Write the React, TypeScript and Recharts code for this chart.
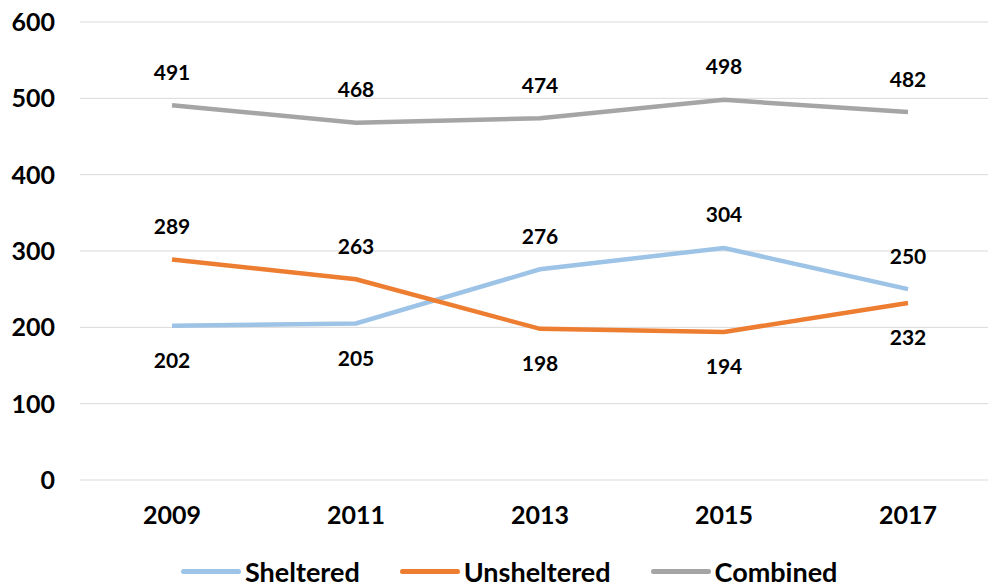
import {
	CartesianGrid,
	LabelList,
	Legend,
	Line,
	LineChart,
	XAxis,
	YAxis,
} from "recharts";

const years = ["2009", "2011", "2013", "2015", "2017"];
const sheltered = [202, 205, 276, 304, 250];
const unsheltered = [289, 263, 198, 194, 232];
const combined = [491, 468, 474, 498, 482];
const yTicks = [0, 100, 200, 300, 400, 500, 600];

const series = [
	{ key: "Sheltered", color: "#9DC3E6" },
	{ key: "Unsheltered", color: "#ED7D31" },
	{ key: "Combined", color: "#A5A5A5" },
];

const data = years.map((year, i) => ({
	year,
	Sheltered: sheltered[i],
	Unsheltered: unsheltered[i],
	Combined: combined[i],
}));

const FONT = "Lato, 'Open Sans', sans-serif";

// higher line gets its label above, lower line below
function makeLabel(key: string) {
	return (props: any) => {
		const { x, y, value, index } = props;
		const row = data[index];
		let above = true;
		if (key === "Sheltered") above = row.Sheltered >= row.Unsheltered;
		if (key === "Unsheltered") above = row.Unsheltered > row.Sheltered;
		return (
			<text
				x={x}
				y={above ? y - 34 : y + 34}
				textAnchor="middle"
				dominantBaseline="central"
				fontFamily={FONT}
				fontWeight={700}
				fontSize={21}
				fill="#000"
			>
				{value}
			</text>
		);
	};
}

function LegendBox() {
	return (
		<div style={{ display: "flex", alignItems: "center", fontFamily: FONT }}>
			{series.map((s) => (
				<div
					key={s.key}
					style={{ display: "flex", alignItems: "center", marginRight: 40 }}
				>
					<div
						style={{
							width: 60,
							height: 5,
							borderRadius: 3,
							background: s.color,
							marginRight: 4,
						}}
					/>
					<span style={{ fontSize: 27, fontWeight: 700, color: "#000" }}>
						{s.key}
					</span>
				</div>
			))}
		</div>
	);
}

export default function App() {
	return (
		<div
			style={{
				position: "fixed",
				left: 0,
				top: 0,
				width: 988,
				height: 587,
				overflow: "hidden",
				background: "#fff",
			}}
		>
			<LineChart
				width={1010}
				height={600}
				data={data}
				margin={{ top: 22, right: 10, left: 0, bottom: 0 }}
			>
				<CartesianGrid vertical={false} stroke="#d9d9d9" />
				<XAxis
					dataKey="year"
					axisLine={false}
					tickLine={false}
					tickSize={0}
					tickMargin={26}
					height={80}
					padding={{ left: 92, right: 92 }}
					tick={{ fontFamily: FONT, fontWeight: 700, fontSize: 25, fill: "#000" }}
				/>
				<YAxis
					domain={[0, 600]}
					ticks={yTicks}
					axisLine={false}
					tickLine={false}
					tickSize={0}
					tickMargin={25}
					width={80}
					tick={{ fontFamily: FONT, fontWeight: 700, fontSize: 25, fill: "#000" }}
				/>
				<Legend
					content={<LegendBox />}
					verticalAlign="bottom"
					height={40}
					wrapperStyle={{ left: 181, top: 555, width: 800 }}
				/>
				{series.map((s) => (
					<Line
						key={s.key}
						type="linear"
						dataKey={s.key}
						stroke={s.color}
						strokeWidth={4.5}
						dot={false}
						activeDot={false}
						isAnimationActive={false}
					>
						<LabelList dataKey={s.key} content={makeLabel(s.key)} />
					</Line>
				))}
			</LineChart>
		</div>
	);
}
